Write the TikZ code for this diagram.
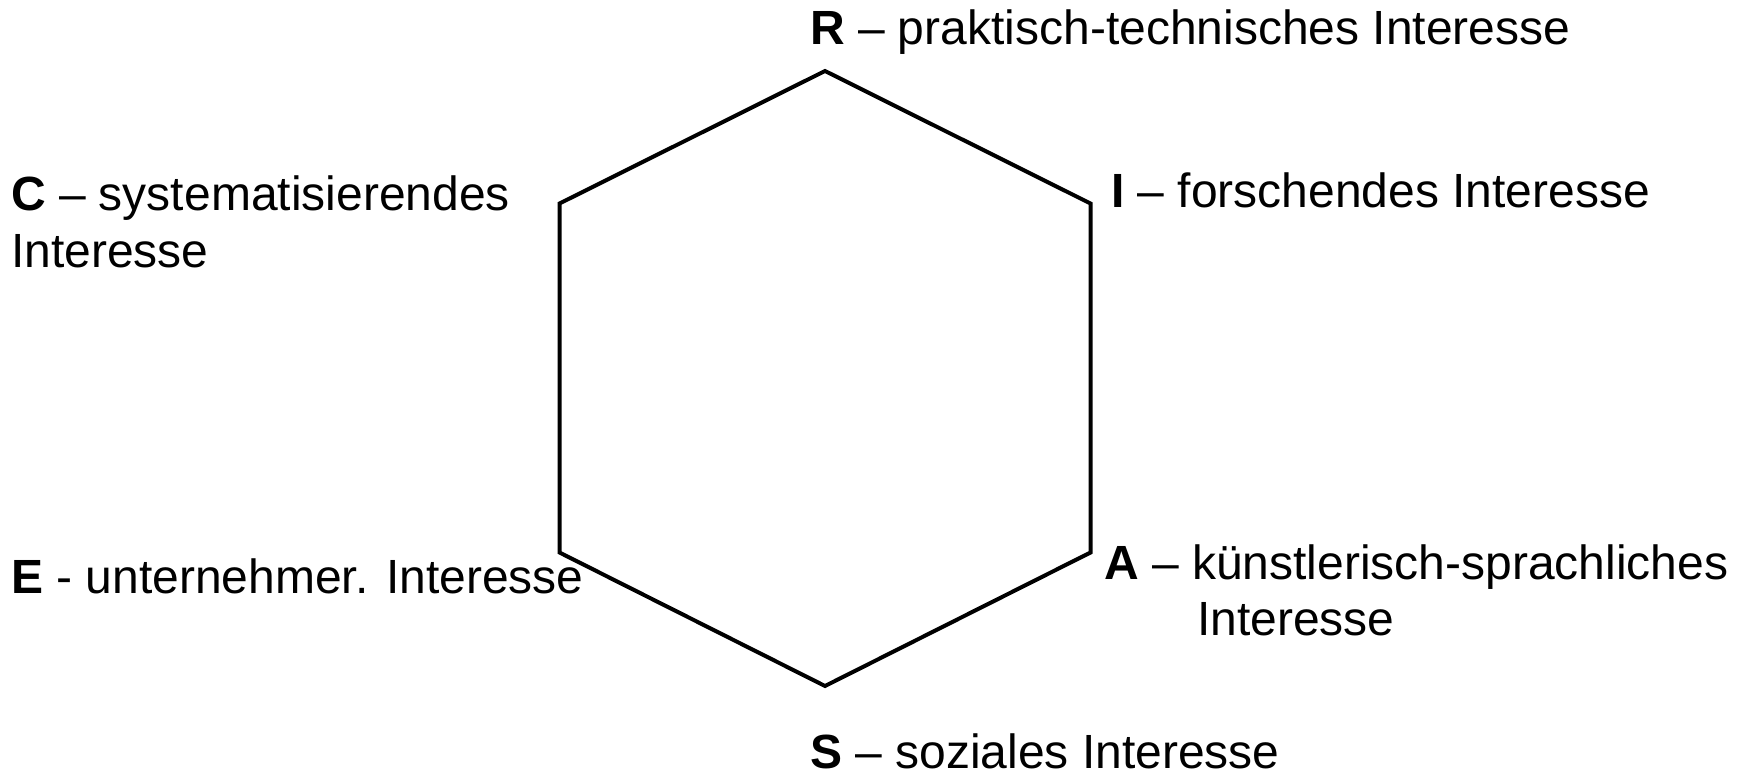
\documentclass[tikz,border=0pt]{standalone}
\usepackage{fontspec}
\setmainfont{Liberation Sans}
\tikzset{
  lbl/.style={inner sep=0pt, outer sep=0pt, anchor=base west, font=\fontsize{24}{28}\selectfont},
  hexline/.style={draw=black, line width=2pt, line join=miter}
}
\begin{document}
\begin{tikzpicture}[x=0.5pt,y=-0.5pt]
\useasboundingbox (0,0) rectangle (1743,775);
\coordinate (vR) at (825,71);
\coordinate (vI) at (1090.5,203.5);
\coordinate (vA) at (1090.5,552.5);
\coordinate (vS) at (825,686);
\coordinate (vE) at (559.5,552.5);
\coordinate (vC) at (559.5,203.5);
\draw[hexline] (vR) -- (vI) -- (vA) -- (vS) -- (vE) -- (vC) -- cycle;
\node[lbl] (R) at (810,44.5) {\textbf{R} – praktisch-technisches Interesse};
\node[lbl] (I) at (1111,207) {\textbf{I} – forschendes Interesse};
\node[lbl] (C) at (11,211) {\textbf{C} – systematisierendes};
\node[lbl] (C2) at (11,267) {Interesse};
\node[lbl] (E) at (11,593) {\textbf{E} - unternehmer. Interesse};
\node[lbl] (A) at (1104,579) {\textbf{A} – künstlerisch-sprachliches};
\node[lbl] (A2) at (1197,635) {Interesse};
\node[lbl] (S) at (810,768) {\textbf{S} – soziales Interesse};
\end{tikzpicture}
\end{document}
